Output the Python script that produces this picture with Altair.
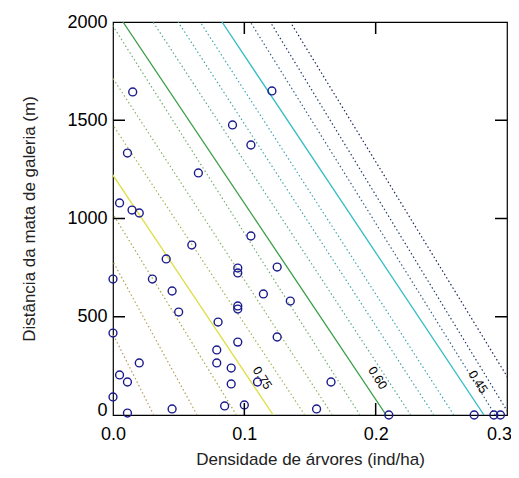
import altair as alt
import pandas as pd

# --- scatter points (Densidade, Distância) ---
pt_x = [0.015, 0.121, 0.091, 0.105, 0.011, 0.065, 0.005, 0.0145, 0.020, 0.105,
        0.060, 0.0405, 0.095, 0.095, 0.125, 0.0, 0.030, 0.045, 0.1145, 0.135,
        0.050, 0.095, 0.095, 0.0, 0.125, 0.080, 0.095, 0.079, 0.079, 0.020,
        0.166, 0.090, 0.005, 0.011, 0.090, 0.110, 0.0, 0.011, 0.045, 0.085,
        0.100, 0.155, 0.210, 0.275, 0.290, 0.295]
pt_y = [1644, 1649, 1476, 1374, 1333, 1232, 1079, 1043, 1028, 911,
        865, 794, 748, 723, 753, 692, 692, 631, 616, 580,
        524, 555, 539, 417, 397, 473, 371, 331, 265, 265,
        168, 239, 204, 168, 158, 168, 92, 10, 31, 46,
        51, 31, 0, 0, 0, 0]

# --- contour lines: level, x where the line meets y=0 and y=2000 ---
levels   = [0.8625, 0.825, 0.7875, 0.75, 0.7125, 0.675, 0.6375, 0.60,
            0.5625, 0.525, 0.4875, 0.45, 0.4125, 0.375, 0.3375]
x_at_0    = [0.031, 0.064, 0.094, 0.122, 0.146, 0.167, 0.188, 0.208,
             0.2267, 0.2443, 0.2595, 0.2825, 0.291, 0.302, 0.318]
x_at_2000 = [-0.120, -0.100, -0.090, -0.078, -0.052, -0.028, -0.002, 0.0076,
             0.0305, 0.0496, 0.0664, 0.083, 0.1046, 0.1198, 0.135]
solid     = [False, False, False, True, False, False, False, True,
             False, False, False, True, False, False, False]
colors    = ["#b89a6a", "#b4a25a", "#aaa84c", "#dede48", "#a6b25a", "#8eb268", "#74ae74", "#3a9e46",
             "#5aa69a", "#4aa6aa", "#40a8b8", "#34bcc4", "#3a6488", "#283e6c", "#1c2858"]

# --- contour labels ---
lab_text = ["0.75", "0.60", "0.45"]
lab_x = [0.1137, 0.2015, 0.278]
lab_y = [188, 188, 168]

# --- tick values ---
xticks = [0.0, 0.1, 0.2, 0.3]
yticks = [0, 500, 1000, 1500, 2000]
inner_xt = [0.1, 0.2]
inner_yt = [500, 1000, 1500]

W, H = 394, 393

rows = []
for i, lv in enumerate(levels):
    rows.append(dict(level=lv, x=x_at_0[i], y=0, solid=solid[i], color=colors[i], o=0))
    rows.append(dict(level=lv, x=x_at_2000[i], y=2000, solid=solid[i], color=colors[i], o=1))
lines_df = pd.DataFrame(rows)
pts_df = pd.DataFrame({"x": pt_x, "y": pt_y})
lab_df = pd.DataFrame({"t": lab_text, "x": lab_x, "y": lab_y})

xs = alt.Scale(domain=[0, 0.3], nice=False, zero=False)
ys = alt.Scale(domain=[0, 2000], nice=False, zero=False)

xenc = alt.X("x:Q", scale=xs, axis=alt.Axis(
    title="Densidade de árvores (ind/ha)", values=xticks, format=".1f",
    ticks=False, domain=False, grid=False, labelFontSize=18, labelPadding=10,
    labelFlush=False, labelOverlap=False,
    labelOffset={"condition": {"test": "datum.value > 0.25", "value": -8}, "value": 0},
    labelColor="black", labelFont="Liberation Sans", titleFont="Liberation Sans",
    titleFontSize=17, titleFontWeight="normal", titleColor="#222", titlePadding=8))
yenc = alt.Y("y:Q", scale=ys, axis=alt.Axis(
    title="Distância da mata de galeria (m)", values=yticks, format="d",
    ticks=False, domain=False, grid=False, labelFontSize=18, labelPadding=6,
    labelFlush=False, labelOverlap=False,
    labelOffset={"condition": {"test": "datum.value < 1", "value": -5}, "value": 0},
    labelColor="black", labelFont="Liberation Sans", titleFont="Liberation Sans",
    titleFontSize=17, titleFontWeight="normal", titleColor="#222", titlePadding=28))

base_lines = alt.Chart(lines_df)
dotted = base_lines.mark_line(clip=True, strokeWidth=1.2, strokeDash=[1.5, 2.5]).encode(
    x=xenc, y=yenc, detail="level:N", order="o:Q",
    color=alt.Color("color:N", scale=None)
).transform_filter("!datum.solid")
solid_l = base_lines.mark_line(clip=True, strokeWidth=1.3).encode(
    x=alt.X("x:Q", scale=xs), y=alt.Y("y:Q", scale=ys), detail="level:N", order="o:Q",
    color=alt.Color("color:N", scale=None)
).transform_filter("datum.solid")

labels = alt.Chart(lab_df).mark_text(angle=57, fontSize=12.5, font="Liberation Sans",
                                     color="black").encode(
    x=alt.X("x:Q", scale=xs), y=alt.Y("y:Q", scale=ys), text="t:N")

points = alt.Chart(pts_df).mark_point(shape="circle", filled=False, size=62,
                                      strokeWidth=1.4, color="#1a1a8e", opacity=1).encode(
    x=alt.X("x:Q", scale=xs), y=alt.Y("y:Q", scale=ys))

xt_df = pd.DataFrame({"x": inner_xt})
yt_df = pd.DataFrame({"y": inner_yt})
tb = alt.Chart(xt_df).mark_rule(color="black", strokeWidth=1.5).encode(
    x=alt.X("x:Q", scale=xs), y=alt.value(H), y2=alt.value(H - 12))
tt = alt.Chart(xt_df).mark_rule(color="black", strokeWidth=1.5).encode(
    x=alt.X("x:Q", scale=xs), y=alt.value(0), y2=alt.value(12))
tl = alt.Chart(yt_df).mark_rule(color="black", strokeWidth=1.5).encode(
    y=alt.Y("y:Q", scale=ys), x=alt.value(0), x2=alt.value(12))
tr = alt.Chart(yt_df).mark_rule(color="black", strokeWidth=1.5).encode(
    y=alt.Y("y:Q", scale=ys), x=alt.value(W), x2=alt.value(W - 12))

chart = alt.layer(dotted, solid_l, labels, points, tb, tt, tl, tr).properties(
    width=W, height=H, autosize=alt.AutoSizeParams(type="none"),
    padding={"left": 105, "top": 14, "right": 4, "bottom": 54},
    background="white"
).configure_view(stroke="black", strokeWidth=1.2)

chart.save("out.html", embed_options={"renderer": "svg", "actions": False})
